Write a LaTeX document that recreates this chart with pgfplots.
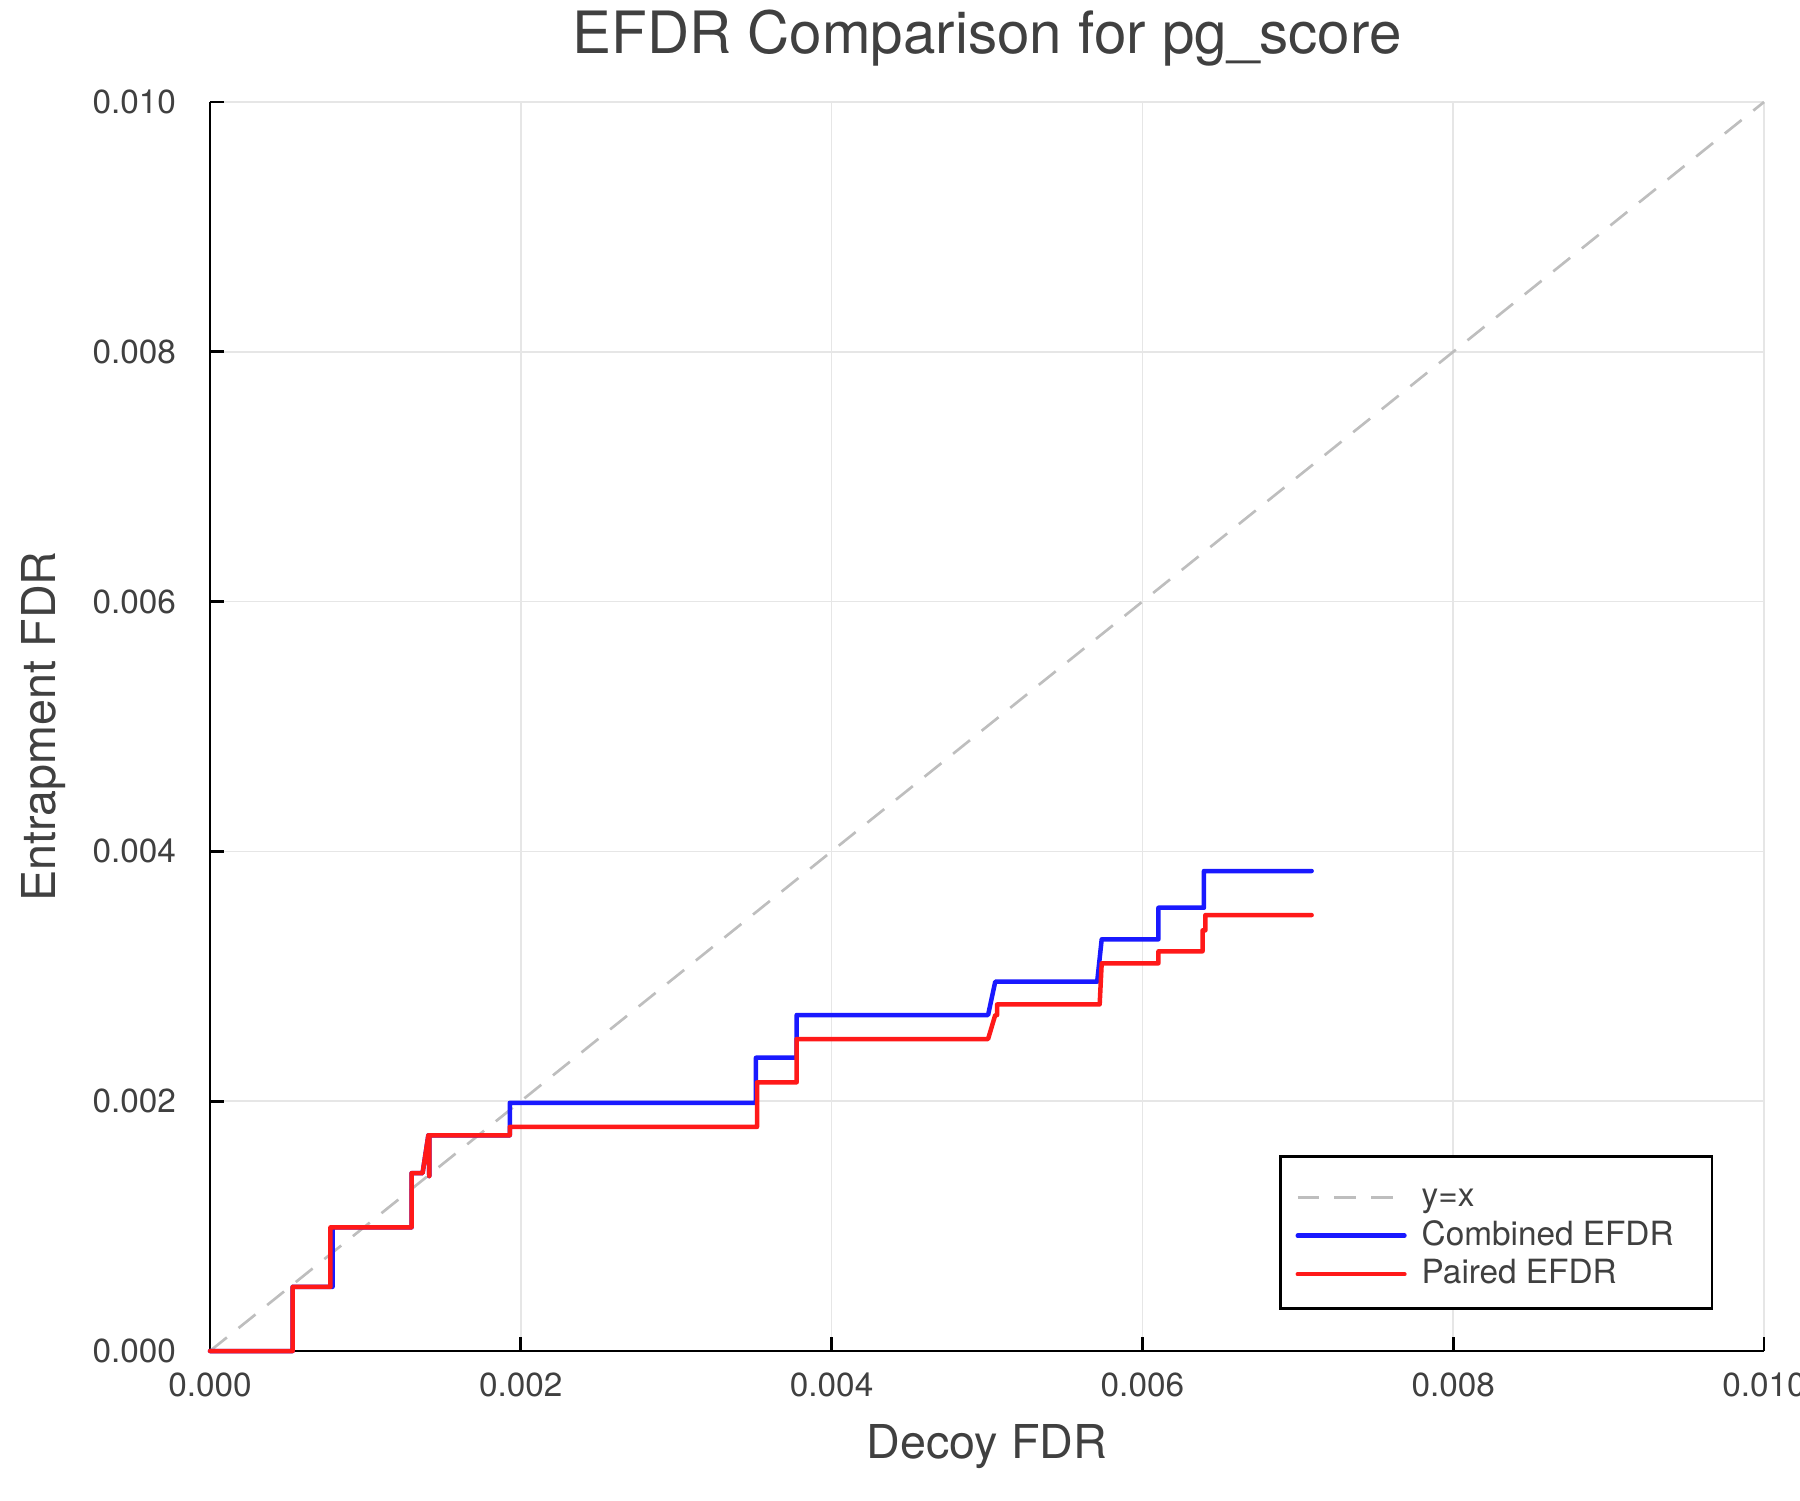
\documentclass[border=0pt]{standalone}
\usepackage{fontspec}
\setmainfont{TeX Gyre Heros}
\usepackage{pgfplots}
\pgfplotsset{compat=1.18}

\definecolor{txtgray}{RGB}{64,64,64}
\definecolor{gridgray}{RGB}{230,230,230}
\definecolor{diaggray}{RGB}{190,190,190}
\definecolor{lineblue}{RGB}{25,25,255}
\definecolor{linered}{RGB}{255,25,25}

\newcommand{\legtext}[1]{\makebox[82.5pt][l]{\rule[-1.2pt]{0pt}{10.2pt}#1}}

\begin{document}
\begin{tikzpicture}
\begin{axis}[
    name=ax,
    scale only axis,
    width=466.2pt, height=374.7pt,
    xmin=0, xmax=0.01, ymin=0, ymax=0.01,
    xtick={0,0.002,...,0.01}, ytick={0,0.002,...,0.01},
    scaled ticks=false,
    /pgf/number format/.cd, fixed, fixed zerofill, precision=3, assume math mode=true,
    /pgfplots/.cd,
    axis lines=left,
    axis line style={-, line width=0.8pt, black},
    tick align=inside,
    major tick length=4.2pt,
    tick style={line width=0.8pt, black},
    grid=major,
    major grid style={gridgray, line width=0.5pt},
    clip=false,
    ticklabel style={font=\fontsize{10}{12}\selectfont, text=txtgray},
    xticklabel style={anchor=base, inner sep=0pt, yshift=-13.7pt},
    yticklabel style={anchor=east, inner sep=0pt, xshift=-10pt},
    title={EFDR Comparison for pg\_score},
    every axis title shift=0pt,
    title style={at={(axis description cs:0.5,1.039)}, anchor=base, inner sep=0pt,
                 font=\fontsize{17.5}{20}\selectfont, text=txtgray},
    xlabel={Decoy FDR},
    xlabel style={at={(axis description cs:0.5,-0.0857)}, anchor=base, inner sep=0pt,
                  font=\fontsize{14}{16}\selectfont, text=txtgray},
    ylabel={Entrapment FDR},
    ylabel style={at={(axis description cs:-0.0997,0.5)}, anchor=base, rotate=0, inner sep=0pt,
                  font=\fontsize{14}{16}\selectfont, text=txtgray},
    legend cell align=left,
    legend image code/.code={\draw[#1] (0pt,-0.9pt) -- (32pt,-0.9pt);},
    legend style={at={(axis description cs:0.9674,0.0328)}, anchor=south east,
                  draw=black, line width=0.8pt, fill=white,
                  inner xsep=4.6pt, inner ysep=6pt, row sep=1.05pt, column sep=4.5pt,
                  nodes={inner sep=0pt},
                  font=\fontsize{10}{12}\selectfont, text=txtgray},
]
\addplot[diaggray, line width=0.8pt, dash pattern=on 6.5pt off 4.5pt] coordinates {(0,0) (0.01,0.01)};
\addplot[lineblue, line width=1.35pt, line cap=round, line join=round] coordinates {
(0,0) (0.000532,0) (0.000532,0.000514) (0.000789,0.000514) (0.000789,0.00099)
(0.001297,0.00099) (0.001297,0.001424) (0.001368,0.001424) (0.001405,0.001727)
(0.001411,0.00140) (0.001411,0.001727) (0.001929,0.001727) (0.001929,0.001987)
(0.003513,0.001987) (0.003513,0.002348) (0.003775,0.002348) (0.003775,0.00269)
(0.005007,0.00269) (0.005053,0.002957) (0.005709,0.002957) (0.005738,0.003296)
(0.006103,0.003296) (0.006103,0.003549) (0.006396,0.003549) (0.006396,0.003843)
(0.007089,0.003843)};
\addplot[linered, line width=1.35pt, line cap=round, line join=round] coordinates {
(0,0) (0.000532,0) (0.000532,0.000514) (0.000775,0.000514) (0.000775,0.00099)
(0.001297,0.00099) (0.001297,0.001424) (0.001368,0.001424) (0.001405,0.001727)
(0.001411,0.00140) (0.001411,0.001727) (0.001929,0.001727) (0.001929,0.001794)
(0.00352,0.001794) (0.00352,0.002151) (0.003775,0.002151) (0.003775,0.002498)
(0.005007,0.002498) (0.005053,0.00269) (0.005065,0.00269) (0.005065,0.002775)
(0.005725,0.002775) (0.005738,0.003104) (0.006103,0.003104) (0.006103,0.0032)
(0.006387,0.0032) (0.006387,0.003368) (0.006405,0.003368) (0.006405,0.00349)
(0.007089,0.00349)};
\legend{\legtext{y=x},\legtext{Combined EFDR},\legtext{Paired EFDR}}
\end{axis}
\pgfresetboundingbox
\path[use as bounding box] ([shift={(-63pt,-44.7pt)}]ax.south west) rectangle ([shift={(10.8pt,30.6pt)}]ax.north east);
\end{tikzpicture}
\end{document}
